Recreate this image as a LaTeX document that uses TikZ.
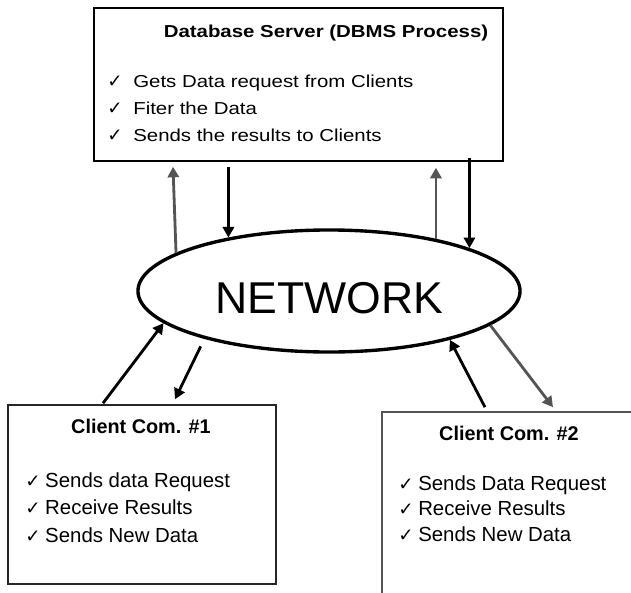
\documentclass[tikz,border=0pt]{standalone}
\usepackage{fontspec}
\setmainfont{Liberation Sans}
\newfontfamily\srvfont[FakeStretch=1.18]{Liberation Sans}
\newfontfamily\chkfont{DejaVu Sans}
\usetikzlibrary{shapes.geometric,arrows.meta,calc}
\definecolor{linegray}{gray}{0.33}
\newcommand{\tick}[1]{\makebox[#1][l]{\chkfont\fontsize{13}{13}\selectfont ✓}}

\begin{document}
\begin{tikzpicture}[x=0.025cm,y=-0.025cm,
  box/.style={rectangle,draw,line width=1.1pt,inner sep=0pt},
  net/.style={ellipse,draw,line width=2.4pt,inner sep=0pt,minimum width=9.55cm,minimum height=3.05cm,
    font=\fontsize{31.7}{32}\selectfont,text height=32.7pt,text depth=0pt},
  srvtitle/.style={anchor=base,font=\srvfont\bfseries\fontsize{12.3}{13}\selectfont},
  srvitem/.style={anchor=base west,inner sep=0pt,font=\srvfont\fontsize{12.3}{13}\selectfont},
  clttitle/.style={anchor=base,font=\bfseries\fontsize{14.1}{15}\selectfont},
  cltitem/.style={anchor=base west,inner sep=0pt,font=\fontsize{14.5}{15}\selectfont},
  link/.style={line width=2pt,-{Triangle[length=7.5pt,width=8pt]}}]
\useasboundingbox (0,0) rectangle (631,592);
\clip (0,0) rectangle (631,592);

% boxes and network
\node[box,minimum width=10.225cm,minimum height=3.825cm] (server) at (298.5,84.5) {};
\node[net] (network) at (329,291) {NETWORK};
\node[box,draw=black!85,minimum width=6.7cm,minimum height=4.475cm] (clientA) at (142,494.5) {};
\node[box,draw=linegray,minimum width=6.45cm,minimum height=4.7cm] (clientB) at (511,506) {};

% server text
\node[srvtitle] (srvTitle) at (326,37) {Database Server (DBMS Process)};
\foreach \txt [count=\i] in {Gets Data request from Clients,Fiter the Data,Sends the results to Clients}
  \node[srvitem] (srv\i) at (107,{87+27*(\i-1)}) {\tick{18.5pt}\txt};

% client text
\node[clttitle] (cltATitle) at (141,433) {Client Com. \#1};
\foreach \txt [count=\i] in {Sends data Request,Receive Results,Sends New Data}
  \node[cltitem] (cltA\i) at (25,{487+27.5*(\i-1)}) {\tick{14.2pt}\txt};
\node[clttitle] (cltBTitle) at (509,440) {Client Com. \#2};
\foreach \txt [count=\i] in {Sends Data Request,Receive Results,Sends New Data}
  \node[cltitem] (cltB\i) at (398,{490+25.5*(\i-1)}) {\tick{14.2pt}\txt};

% server <-> network
\draw[link,linegray] (network.166) -- ($(server.south)+(-125.5,5)$);
\draw[link] ($(network.152 |- server.south)+(0,5)$) -- (network.152);
\draw[link,linegray] (network.26) -- ($(network.26 |- server.south)+(0,6)$);
\draw[link] ($(network.17 |- server.south)+(0,-4)$) -- (network.17);

% clients <-> network
\draw[link] ($(clientA.north)+(-39,-1)$) -- (network.191);
\draw[link,shorten <=6pt] (network.201) -- ($(clientA.north)+(33,-5)$);
\draw[link] ($(clientB.north)+(-26,-4)$) -- (network.338);
\draw[link,linegray] (network.348) -- ($(clientB.north)+(42,-4)$);
\end{tikzpicture}
\end{document}
